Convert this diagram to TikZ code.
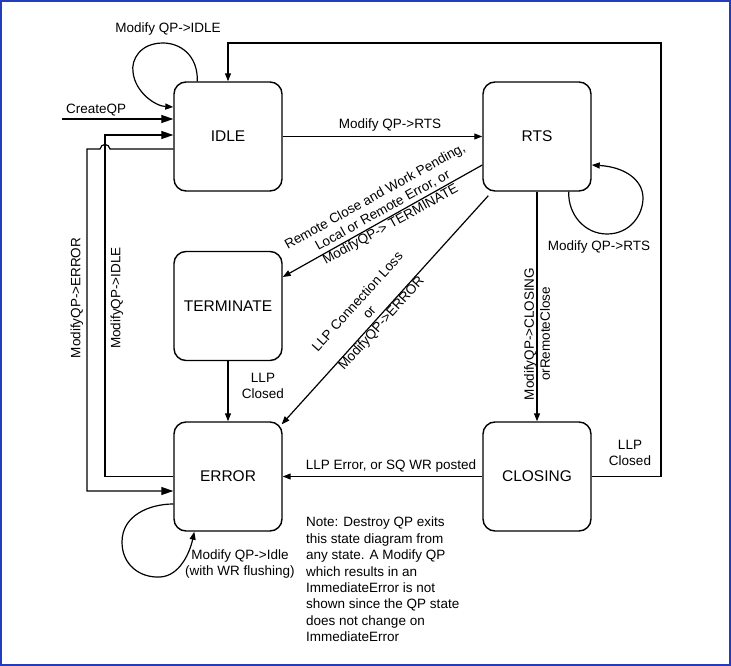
\documentclass[tikz,border=0pt]{standalone}
\usepackage{fontspec}
\setmainfont{Liberation Sans}
\usetikzlibrary{arrows.meta}
\definecolor{framecol}{RGB}{35,60,190}
\begin{document}
\begin{tikzpicture}[x=1pt,y=-1pt,
  state/.style={draw, line width=1.4pt, rounded corners=12pt, minimum width=108pt, minimum height=109pt, inner sep=0pt, font=\fontsize{15.5}{18}\selectfont},
  conn/.style={line width=1.2pt, -{Triangle[length=8pt,width=6pt]}},
  bigconn/.style={line width=1.2pt, -{Triangle[length=12pt,width=8pt]}},
  plain/.style={line width=1.2pt},
  lbl/.style={font=\fontsize{13.5}{16}\selectfont, inner sep=0pt, align=center},
  note/.style={font=\fontsize{13.5}{16.4}\selectfont, inner sep=0pt, align=left, anchor=north west}]
\useasboundingbox (0,0) rectangle (731,666);
\draw[framecol, line width=2pt] (1,1) rectangle (730,665);

% states
\node[state] (idle) at (228,136.5) {IDLE};
\node[state] (rts)  at (537,136.5) {RTS};
\node[state] (term) at (228,306) {TERMINATE};
\node[state] (err)  at (228,476.5) {ERROR};
\node[state] (clo)  at (537,476.5) {CLOSING};

% IDLE -> RTS
\draw[conn] (idle.east) -- (rts.west);
\node[lbl] (l1) at (390,125) {Modify QP->RTS};

% RTS -> TERMINATE
\draw[conn] ([yshift=-28.5pt]rts.west) -- ([yshift=29pt]term.east);
\node[lbl, rotate=29] (l2) at (383,211) {Remote Close and Work Pending,\\Local or Remote Error, or\\ModifyQP-> TERMINATE};

% RTS -> ERROR
\draw[conn] ([shift={(6pt,-4pt)}]rts.south west) -- ([shift={(-1pt,-3pt)}]err.north east);
\node[lbl, rotate=48] (l3) at (370,313) {LLP Connection Loss\\or\\ModifyQP->ERROR};

% TERMINATE -> ERROR
\draw[conn] (term.south) -- (err.north);
\node[lbl] (l4) at (263,386) {LLP\\Closed};

% RTS -> CLOSING
\draw[conn] (rts.south) -- (clo.north);
\node[lbl, rotate=90] (l5) at (537,334) {ModifyQP->CLOSING\\orRemoteClose};

% RTS self loop
\draw[conn] ([xshift=-23pt]rts.south east) .. controls (568,215) and (585,234) .. (607,234)
  .. controls (630,234) and (643,215) .. (643,198)
  .. controls (643,180) and (625,167) .. ([yshift=-28.5pt]rts.east);
\node[lbl] (l6) at (599,247) {Modify QP->RTS};

% CLOSING -> ERROR
\draw[conn] (clo.west) -- (err.east);
\node[lbl] (l7) at (391,466) {LLP Error, or SQ WR posted};

% CLOSING -> IDLE (outer)
\coordinate (o1) at (661,43);
\draw[conn] (clo.east) -| (o1) -| (idle.north);
\node[lbl] (l8) at (630,453) {LLP\\Closed};

% IDLE self loop
\draw[conn] ([xshift=24pt]idle.north west) .. controls (198,55) and (180,43) .. (163,43)
  .. controls (140,43) and (131,60) .. (133,72)
  .. controls (135,92) and (155,106) .. ([yshift=29.5pt]idle.west);
\node[lbl] (l9) at (168,29) {Modify QP->IDLE};

% CreateQP
\coordinate (cq) at (62,119);
\draw[bigconn] (cq) -- ([yshift=17.5pt]idle.west);
\node[lbl, anchor=west] (l10) at (66,110) {CreateQP};

% ERROR -> IDLE
\coordinate (c1) at (105,476.5);
\draw[bigconn] (err.west) -- (c1) |- ([yshift=1.5pt]idle.west);
\node[lbl, rotate=90] (l11) at (117,298) {ModifyQP->IDLE};

% IDLE -> ERROR
\coordinate (b1) at (110,149);
\coordinate (b2) at (100,149);
\coordinate (c2) at (87,149);
\draw[bigconn] ([yshift=-12.5pt]idle.west) -- (b1) .. controls (109,143) and (101,143) .. (b2) -- (c2) |- ([yshift=-14.5pt]err.west);
\node[lbl, rotate=90] (l12) at (77,298) {ModifyQP->ERROR};

% ERROR self loop
\draw[conn] ([yshift=-27.5pt]err.west) .. controls (150,504) and (122,515) .. (122,542)
  .. controls (122,565) and (140,578) .. (160,577)
  .. controls (180,576) and (190,552) .. ([xshift=21pt]err.south west);
\node[lbl] (l13) at (240,564) {Modify QP->Idle\\(with WR flushing)};

% note
\node[note] (nt) at (306,517) {Note: Destroy QP exits\\this state diagram from\\any state. A Modify QP\\which results in an\\ImmediateError is not\\shown since the QP state\\does not change on\\ImmediateError};
\end{tikzpicture}
\end{document}
